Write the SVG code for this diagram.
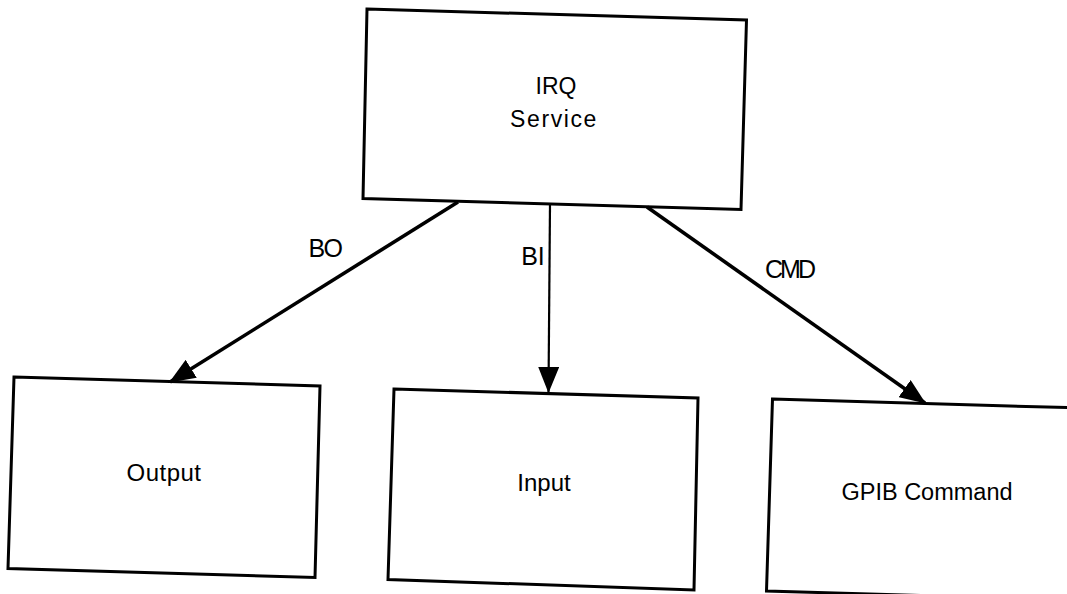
<svg xmlns="http://www.w3.org/2000/svg" width="1067" height="594" viewBox="0 0 1067 594">
  <style>
    .box { fill: #ffffff; stroke: #000000; stroke-width: 3; stroke-linejoin: miter; }
    .txt { font-family: "Liberation Sans", Arial, Helvetica, sans-serif; fill: #000000; text-anchor: middle; }
    .node { font-size: 24px; }
    .lbl { font-size: 25px; }
    .edge { stroke: #000000; stroke-width: 3.6; fill: none; }
    .thin { stroke-width: 2.2; }
  </style>
  <defs>
    <marker id="head" viewBox="0 0 26 21" refX="25" refY="10.5" markerWidth="26" markerHeight="21" markerUnits="userSpaceOnUse" orient="auto">
      <path d="M0,0 L26,10.5 L0,21 Z" fill="#000000"/>
    </marker>
  </defs>
  <rect width="1067" height="594" fill="#ffffff"/>

  <!-- interrupt dispatcher -->
  <g id="irq-service">
    <polygon class="box" points="367,9 746.5,20 741,209.5 363,198.5"/>
    <text class="txt" x="556" y="94" font-size="23">IRQ</text>
    <text class="txt" x="554" y="127" font-size="23" letter-spacing="1.6">Service</text>
  </g>

  <!-- handlers -->
  <g id="output">
    <polygon class="box" points="14,377 320,386 315,577.5 8,568.5"/>
    <text class="txt node" x="164" y="481" letter-spacing="0.5">Output</text>
  </g>

  <g id="input">
    <polygon class="box" points="394,389 698,398 694,590 388,579.5"/>
    <text class="txt node" x="544" y="491">Input</text>
  </g>

  <g id="gpib-command">
    <polygon class="box" points="772.5,399 1080,408 1075,600 766.5,591"/>
    <text class="txt" x="927" y="500" font-size="23.5">GPIB Command</text>
  </g>

  <!-- dispatch paths -->
  <g id="connectors">
    <line class="edge" x1="458" y1="202" x2="170" y2="382" marker-end="url(#head)"/>
    <line class="edge thin" x1="550" y1="204" x2="548.5" y2="392" marker-end="url(#head)"/>
    <line class="edge" x1="647" y1="207" x2="925" y2="403" marker-end="url(#head)"/>
    <text class="txt lbl" x="325" y="257" letter-spacing="-1.5">BO</text>
    <text class="txt lbl" x="533" y="265">BI</text>
    <text class="txt lbl" x="789" y="278" letter-spacing="-3">CMD</text>
  </g>
</svg>
